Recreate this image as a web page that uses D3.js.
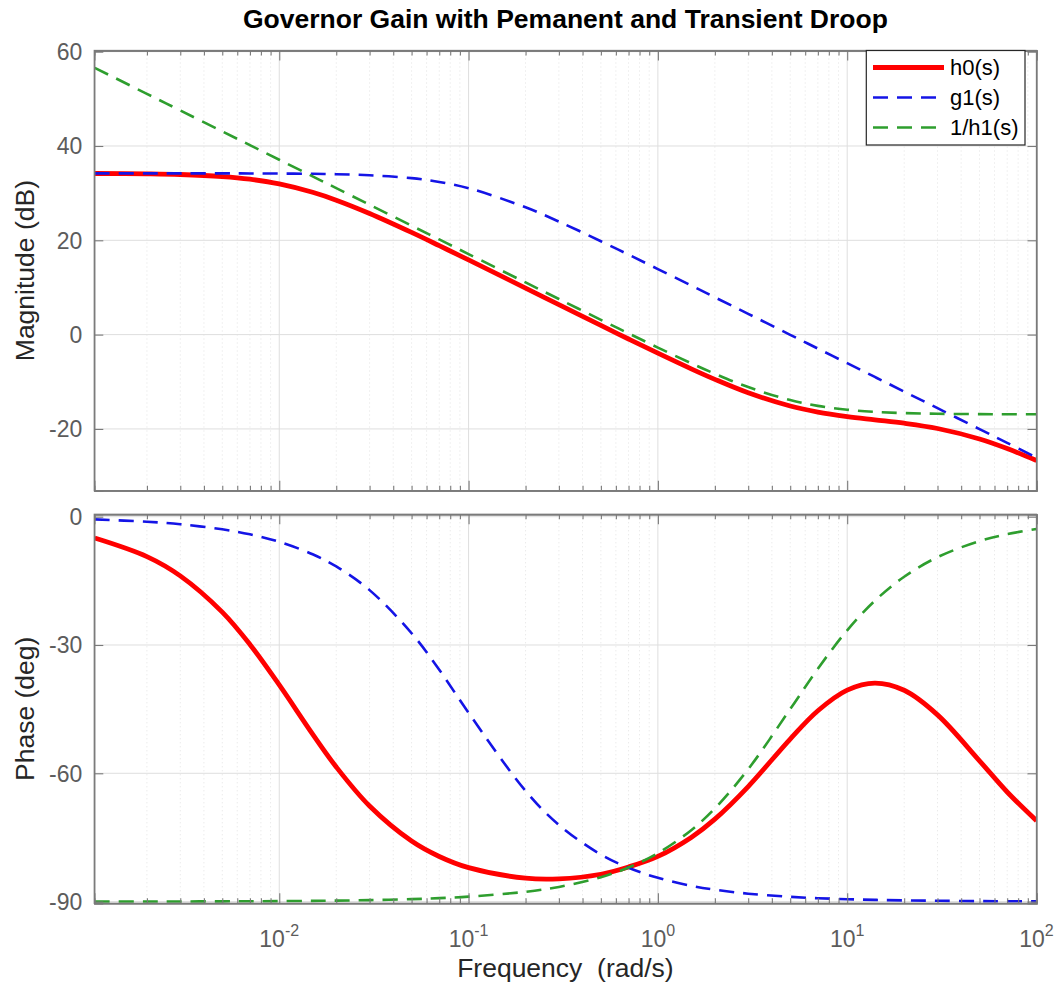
<!DOCTYPE html>
<html>
<head>
<meta charset="utf-8">
<script src="https://cdn.jsdelivr.net/npm/d3@7"></script>
<style>
  body { margin: 0; background: #fff; }
  svg text { font-family: "Liberation Sans", Arial, Helvetica, sans-serif; }
</style>
</head>
<body>
<svg id="chart" width="1059" height="988"></svg>
<script>
// Frequency samples (rad/s)
const freq = [0.00106, 0.002, 0.003, 0.005, 0.007, 0.01, 0.015, 0.02, 0.03, 0.05, 0.07, 0.1,
              0.2, 0.3, 0.5, 0.7, 1, 1.5, 2, 3, 5, 7, 10, 14, 20, 30, 50, 70, 100];

// Magnitude (dB)
const h0Mag    = [34.17, 34.09, 33.95, 33.52, 32.96, 31.96, 30.18, 28.51, 25.69, 21.67, 18.86, 15.83,
                  9.87, 6.36, 1.96, -0.93, -3.94, -7.26, -9.49, -12.34, -15.14, -16.43, -17.38, -18.07,
                  -18.79, -19.91, -22.13, -24.16, -26.69];
const g1Mag    = [34.20, 34.20, 34.20, 34.19, 34.18, 34.15, 34.10, 34.02, 33.80, 33.18, 32.38, 31.06,
                  27.00, 23.97, 19.80, 16.96, 13.90, 10.40, 7.91, 4.40, -0.04, -2.96, -6.06, -8.98,
                  -12.08, -15.60, -20.04, -22.96, -26.06];
const invH1Mag = [56.57, 51.06, 47.54, 43.10, 40.18, 37.08, 33.56, 31.06, 27.54, 23.10, 20.18, 17.08,
                  11.06, 7.55, 3.14, 0.26, -2.75, -6.07, -8.30, -11.13, -13.89, -15.11, -15.93, -16.38,
                  -16.64, -16.78, -16.86, -16.88, -16.89];

// Phase (deg)
const h0Phase    = [-4.98, -9.33, -13.84, -22.32, -29.88, -39.35, -50.84, -58.52, -67.65, -75.84, -79.45, -82.07,
                    -84.52, -84.68, -83.61, -81.90, -79.43, -74.99, -70.72, -63.10, -51.99, -45.38, -40.55, -38.91,
                    -40.59, -46.34, -57.08, -64.37, -71.08];
const g1Phase    = [-0.63, -1.18, -1.77, -2.95, -4.12, -5.88, -8.78, -11.64, -17.17, -27.25, -35.79, -45.85,
                    -64.10, -72.07, -79.01, -82.10, -84.45, -86.30, -87.22, -88.15, -88.89, -89.21, -89.44, -89.60,
                    -89.72, -89.81, -89.89, -89.92, -89.94];
const invH1Phase = [-89.99, -89.98, -89.97, -89.94, -89.92, -89.89, -89.83, -89.77, -89.66, -89.43, -89.20, -88.85,
                    -87.71, -86.57, -84.29, -82.03, -78.69, -73.30, -68.20, -59.04, -45.00, -35.54, -26.57, -19.65,
                    -14.04, -9.46, -5.71, -4.09, -2.86];

const seriesNames  = ["h0(s)", "g1(s)", "1/h1(s)"];
const magTicks     = [-20, 0, 20, 40, 60];
const phaseTicks   = [-90, -60, -30, 0];
const freqTicks    = [0.01, 0.1, 1, 10, 100];
const freqTickExps = ["-2", "-1", "0", "1", "2"];

const titleText  = "Governor Gain with Pemanent and Transient Droop";
const magLabel   = "Magnitude (dB)";
const phaseLabel = "Phase (deg)";
const freqLabel  = "Frequency  (rad/s)";

// ---- layout & style ----
const svg = d3.select("#chart");
const L = 94.3, R = 1036.5;
const magBox   = { top: 50.5,  bottom: 490.7 };
const phaseBox = { top: 514.3, bottom: 903.3 };

const styles = [
  { color: "#ff0000", width: 4.8, dash: null },
  { color: "#1414e6", width: 2.6, dash: "15,9" },
  { color: "#2e9e2e", width: 2.6, dash: "15,9" }
];
const axisColor = "#7a7a7a";
const tickTextColor = "#5c5c5c";
const gridColor = "#dedede";
const minorGridColor = "#e2e2e2";

const x = d3.scaleLog().domain([Math.pow(10, -2.977), 100]).range([L, R]);
const yMag = d3.scaleLinear().domain([-33.1, 60.25]).range([magBox.bottom, magBox.top]);
const yPh  = d3.scaleLinear().domain([-90.4, 0.56]).range([phaseBox.bottom, phaseBox.top]);

// minor frequency positions 2..9 x 10^k inside the domain
const minorFreqs = [];
for (let k = -3; k <= 1; k++) {
  for (let m = 2; m <= 9; m++) {
    const f = m * Math.pow(10, k);
    if (f > x.domain()[0] && f < 100) minorFreqs.push(f);
  }
}

function drawPanel(box, yScale, yTicks, seriesList, clipId) {
  const g = svg.append("g");

  // clip region
  svg.append("clipPath").attr("id", clipId)
    .append("rect").attr("x", L).attr("y", box.top)
    .attr("width", R - L).attr("height", box.bottom - box.top);

  // minor vertical grid (dotted)
  g.selectAll(".mgrid").data(minorFreqs).join("line")
    .attr("x1", d => x(d)).attr("x2", d => x(d))
    .attr("y1", box.top).attr("y2", box.bottom)
    .attr("stroke", minorGridColor).attr("stroke-width", 1)
    .attr("stroke-dasharray", "1,3");

  // major vertical grid
  g.selectAll(".vgrid").data(freqTicks.filter(f => f < 100)).join("line")
    .attr("x1", d => x(d)).attr("x2", d => x(d))
    .attr("y1", box.top).attr("y2", box.bottom)
    .attr("stroke", gridColor).attr("stroke-width", 1);

  // major horizontal grid
  g.selectAll(".hgrid").data(yTicks).join("line")
    .attr("x1", L).attr("x2", R)
    .attr("y1", d => yScale(d)).attr("y2", d => yScale(d))
    .attr("stroke", gridColor).attr("stroke-width", 1);

  // curves
  const curves = g.append("g").attr("clip-path", `url(#${clipId})`);
  seriesList.forEach((vals, i) => {
    const pts = freq.map((f, j) => ({ f, v: vals[j] }));
    const line = d3.line().x(d => x(d.f)).y(d => yScale(d.v)).curve(d3.curveCatmullRom.alpha(0.5));
    curves.append("path").datum(pts)
      .attr("d", line)
      .attr("fill", "none")
      .attr("stroke", styles[i].color)
      .attr("stroke-width", styles[i].width)
      .attr("stroke-dasharray", styles[i].dash)
      .attr("stroke-linejoin", "round");
  });

  // axes (box with inward ticks on all four sides)
  const yLeft = d3.axisLeft(yScale).tickValues(yTicks).tickSize(-9).tickFormat("");
  const yRight = d3.axisRight(yScale).tickValues(yTicks).tickSize(-9).tickFormat("");
  const xBottomMajor = d3.axisBottom(x).tickValues(freqTicks).tickSize(-10).tickFormat("");
  const xTopMajor = d3.axisTop(x).tickValues(freqTicks).tickSize(-10).tickFormat("");
  const xBottomMinor = d3.axisBottom(x).tickValues(minorFreqs).tickSize(-5).tickFormat("");
  const xTopMinor = d3.axisTop(x).tickValues(minorFreqs).tickSize(-5).tickFormat("");

  const axes = [
    [yLeft, `translate(${L},0)`],
    [yRight, `translate(${R},0)`],
    [xBottomMajor, `translate(0,${box.bottom})`],
    [xTopMajor, `translate(0,${box.top})`],
    [xBottomMinor, `translate(0,${box.bottom})`],
    [xTopMinor, `translate(0,${box.top})`]
  ];
  axes.forEach(([ax, tr]) => {
    const a = g.append("g").attr("transform", tr).call(ax);
    a.select(".domain").attr("stroke", axisColor).attr("stroke-width", 1.3);
    a.selectAll(".tick line").attr("stroke", axisColor).attr("stroke-width", 1.1);
  });
  // outer frame edges
  g.append("rect").attr("x", L).attr("y", box.top)
    .attr("width", R - L).attr("height", box.bottom - box.top)
    .attr("fill", "none").attr("stroke", axisColor).attr("stroke-width", 1.3);

  // y tick labels
  g.selectAll(".ylab").data(yTicks).join("text")
    .attr("x", L - 12).attr("y", d => yScale(d))
    .attr("dy", "0.36em")
    .attr("text-anchor", "end")
    .attr("font-size", 23)
    .attr("fill", tickTextColor)
    .text(d => d);
}

drawPanel(magBox, yMag, magTicks, [h0Mag, g1Mag, invH1Mag], "clipMag");
drawPanel(phaseBox, yPh, phaseTicks, [h0Phase, g1Phase, invH1Phase], "clipPh");

// x tick labels: 10 with superscript exponent
freqTicks.forEach((f, i) => {
  const t = svg.append("text")
    .attr("x", x(f)).attr("y", 947)
    .attr("text-anchor", "middle")
    .attr("font-size", 23)
    .attr("fill", tickTextColor);
  t.append("tspan").text("10");
  t.append("tspan").attr("font-size", 16).attr("dy", -11).text(freqTickExps[i]);
});

// title
svg.append("text")
  .attr("x", (L + R) / 2).attr("y", 28)
  .attr("text-anchor", "middle")
  .attr("font-size", 26.5).attr("font-weight", "bold")
  .attr("fill", "#000")
  .text(titleText);

// axis labels
svg.append("text")
  .attr("transform", `translate(34,${(magBox.top + magBox.bottom) / 2}) rotate(-90)`)
  .attr("text-anchor", "middle").attr("font-size", 26.5).attr("fill", "#262626")
  .text(magLabel);
svg.append("text")
  .attr("transform", `translate(34,${(phaseBox.top + phaseBox.bottom) / 2}) rotate(-90)`)
  .attr("text-anchor", "middle").attr("font-size", 26.5).attr("fill", "#262626")
  .text(phaseLabel);
svg.append("text")
  .attr("x", (L + R) / 2).attr("y", 977)
  .attr("text-anchor", "middle").attr("font-size", 26.5).attr("fill", "#262626")
  .style("white-space", "pre")
  .text(freqLabel);

// legend
const lg = svg.append("g");
lg.append("rect").attr("x", 866.3).attr("y", 50.5).attr("width", 158.7).attr("height", 94.5)
  .attr("fill", "#fff").attr("stroke", "#262626").attr("stroke-width", 1.2);
seriesNames.forEach((name, i) => {
  const cy = 67.5 + i * 30;
  lg.append("line").attr("x1", 873).attr("x2", 944).attr("y1", cy).attr("y2", cy)
    .attr("stroke", styles[i].color).attr("stroke-width", styles[i].width)
    .attr("stroke-dasharray", styles[i].dash);
  lg.append("text").attr("x", 950).attr("y", cy).attr("dy", "0.36em")
    .attr("font-size", 22).attr("fill", "#000").text(name);
});
</script>
</body>
</html>
